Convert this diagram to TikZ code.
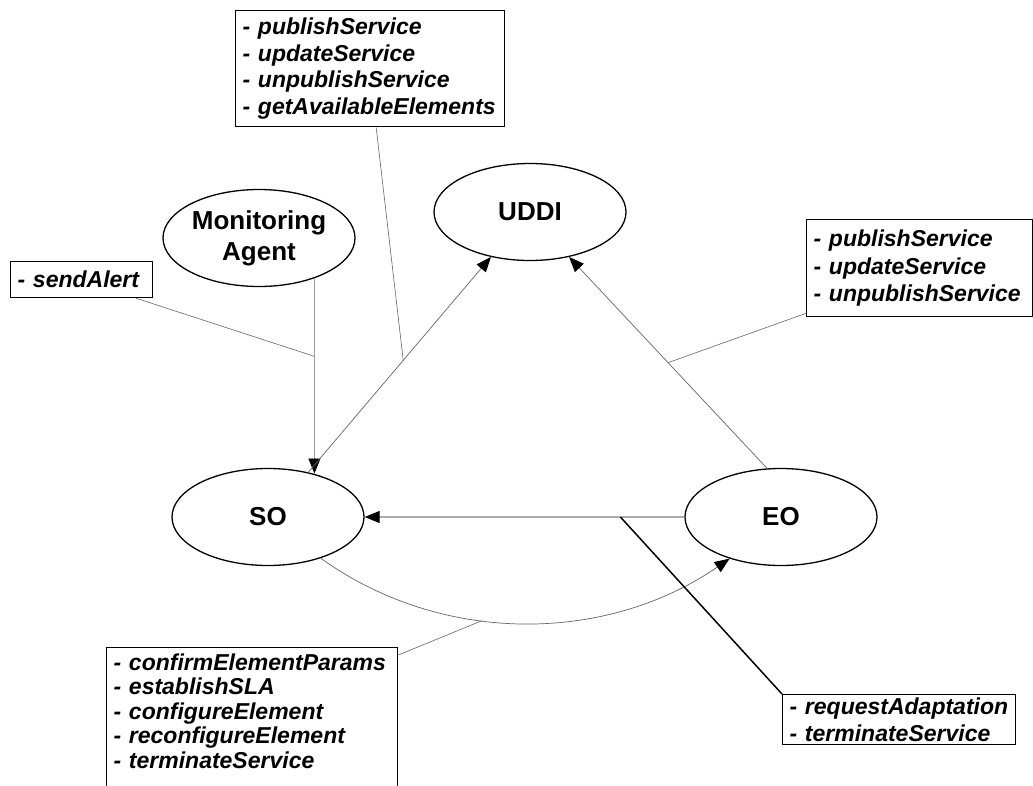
\documentclass[tikz,border=0pt]{standalone}
\usepackage{fontspec}
\setmainfont{Liberation Sans}
\usetikzlibrary{shapes.geometric,arrows.meta,calc}
\begin{document}
\begin{tikzpicture}[x=1pt,y=-1pt,
  agent/.style={draw, ellipse, line width=1.3pt, minimum width=192pt, minimum height=97pt,
    inner sep=0pt, align=center, font=\fontsize{26}{31}\selectfont\bfseries},
  opbox/.style={draw, line width=1.3pt, anchor=north west, inner xsep=7pt, inner ysep=0pt,
    align=left, font=\fontsize{23}{26.5}\selectfont\bfseries\itshape},
  link/.style={draw=gray!80!black, line width=0.7pt, -{Triangle[length=15pt,width=12pt,color=black]}},
  note/.style={draw=gray!80!black, line width=0.6pt},
  handoff/.style={draw=black, line width=1.5pt}]
\useasboundingbox (0,0) rectangle (1033,785);
\clip (0,0) rectangle (1033,785);
\fill[white] (0,0) rectangle (1033,785);

% participants
\node[agent] (MA) at (259,238) {Monitoring\\Agent};
\node[agent] (UDDI) at (530,212) {UDDI};
\node[agent] (SO) at (268,517) {SO};
\node[agent] (EO) at (781,517) {EO};

% operation lists
\node[opbox, text width=255pt, minimum height=116pt] (top) at (235,10)
  {- publishService\\- updateService\\- unpublishService\\- getAvailableElements};
\node[opbox, text width=128pt, minimum height=36pt] (send) at (10,261) {- sendAlert};
\node[opbox, text width=212pt, minimum height=97pt,
  font=\fontsize{23}{27.5}\selectfont\bfseries\itshape] (rbox) at (806,219)
  {- publishService\\- updateService\\- unpublishService};
\node[opbox, text width=277pt, inner ysep=6pt,
  font=\fontsize{23}{24.5}\selectfont\bfseries\itshape] (bl) at (106,647)
  {- confirmElementParams\\- establishSLA\\- configureElement\\- reconfigureElement\\- terminateService\rule[-30pt]{0pt}{30pt}};
\node[opbox, text width=219pt, minimum height=50pt,
  font=\fontsize{23}{27}\selectfont\bfseries\itshape] (br) at (782,694)
  {- requestAdaptation\\- terminateService};

% interactions
\coordinate (mab) at (MA.-36);
\coordinate (sot) at (SO.44);
\draw[link, draw=gray!75] (mab) -- coordinate[pos=0.4] (c2) (mab |- sot);
\draw[link] (SO.48) -- coordinate[pos=0.52] (c1) (UDDI.-131);
\draw[link] (EO.106) -- coordinate[pos=0.5] (c3) (UDDI.-49);
\draw[link, draw=gray!65, line width=1.1pt] (EO.west) -- coordinate[pos=0.2] (c4) (SO.east);
\draw[link] (SO.-38) .. controls (443,646) and (607,643) .. (EO.-141) coordinate[pos=0.4] (c5);

% callouts
\draw[note] ($(top.south)+(6,0)$) -- (c1);
\draw[note] ($(send.south east)+(-17,0)$) -- (c2);
\draw[note] ($(rbox.south west)+(0,-4)$) -- (c3);
\draw[note] ($(bl.north east)+(0,8)$) -- (c5);
\draw[handoff] (c4) -- (br.north west);
\end{tikzpicture}
\end{document}
